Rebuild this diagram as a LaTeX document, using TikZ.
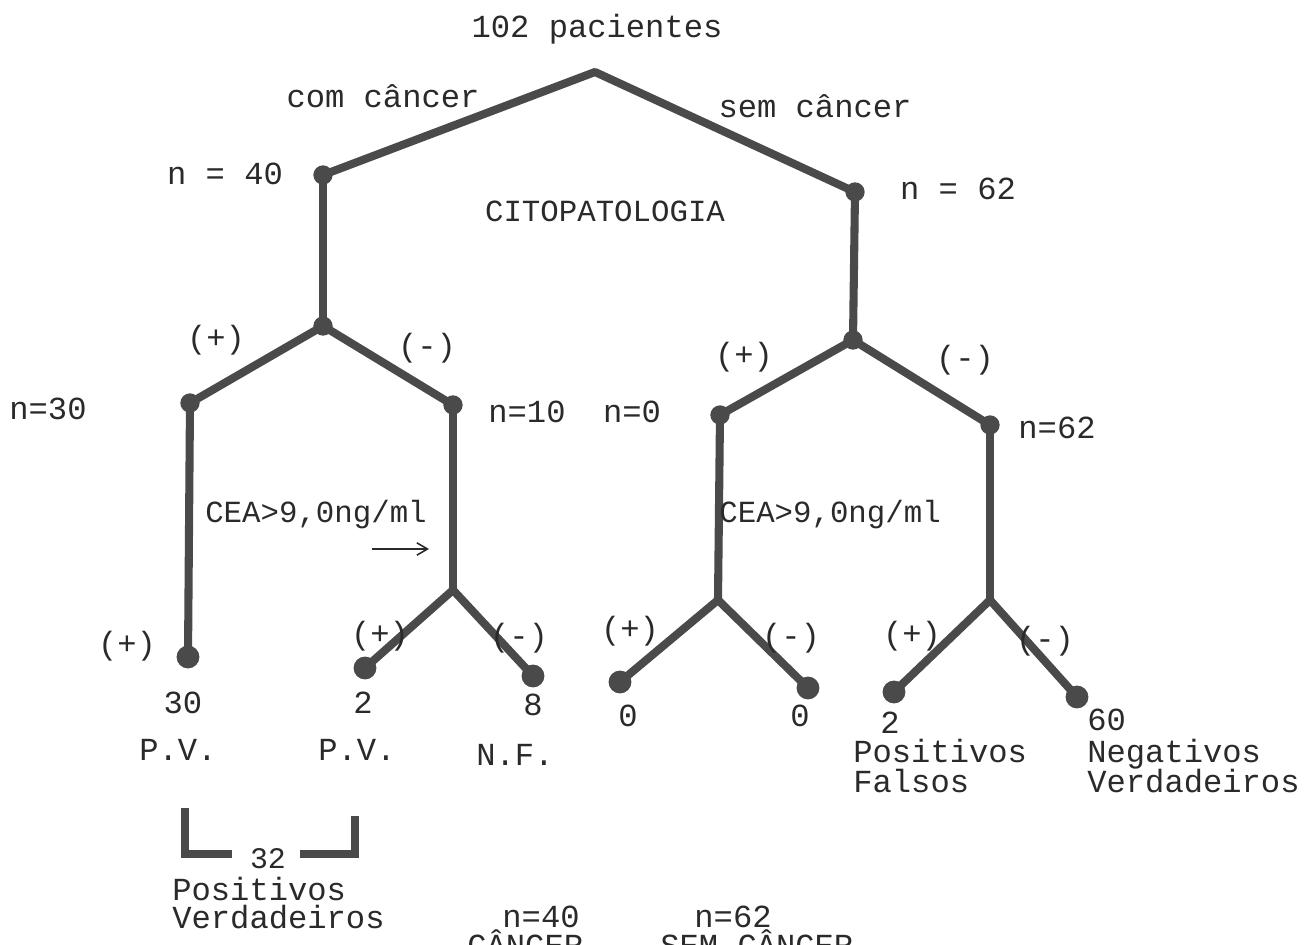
\documentclass[tikz,border=0pt]{standalone}
\usepackage{fontspec}
\setmainfont{Liberation Mono}
\usetikzlibrary{arrows.meta}
\definecolor{ink}{HTML}{4A4A4A}
\definecolor{txt}{HTML}{2A2A2A}
\tikzset{
  branch/.style={draw=ink, line width=4.6pt, line cap=round, line join=round},
  joint/.style={circle, fill=ink, inner sep=0pt, minimum size=11pt},
  leaf/.style={circle, fill=ink, inner sep=0pt, minimum size=13pt},
  lbl/.style={text=txt, font=\fontsize{18.3}{22}\selectfont, inner sep=0pt, anchor=base},
  lblw/.style={lbl, anchor=base west},
  slbl/.style={lbl, font=\fontsize{17.5}{21}\selectfont},
}
\begin{document}
\begin{tikzpicture}[x=0.02cm, y=-0.02cm]
\useasboundingbox (0,0) rectangle (1315,945);
\clip (0,0) rectangle (1315,945);
\fill[white] (0,0) rectangle (1315,945);

% tree points
\coordinate (root) at (595,72);
\node[joint] (c40) at (323,175) {};
\node[joint] (c62) at (855,192) {};
\node[joint] (fL) at (323,326) {};
\node[joint] (fR) at (853,340) {};
\node[joint] (p30) at (190,403) {};
\node[joint] (p10) at (453,405) {};
\node[joint] (p0) at (720,415) {};
\node[joint] (p62) at (990,425) {};
\coordinate (gA) at (453,590);
\coordinate (gB) at (718,600);
\coordinate (gC) at (990,600);
\node[leaf] (l30) at (188,657) {};
\node[leaf] (l2) at (365,668) {};
\node[leaf] (l8) at (533,676) {};
\node[leaf] (l0a) at (620,682) {};
\node[leaf] (l0b) at (808,688) {};
\node[leaf] (l2b) at (894,692) {};
\node[leaf] (l60) at (1077,697) {};

% branches
\draw[branch] (c40.center) -- (root) -- (c62.center);
\draw[branch] (c40.center) -- (fL.center);
\draw[branch] (c62.center) -- (fR.center);
\draw[branch] (p30.center) -- (fL.center) -- (p10.center);
\draw[branch] (p0.center) -- (fR.center) -- (p62.center);
\draw[branch] (p30.center) -- (l30.center);
\draw[branch] (p10.center) -- (gA);
\draw[branch] (l2.center) -- (gA) -- (l8.center);
\draw[branch] (p0.center) -- (gB);
\draw[branch] (l0a.center) -- (gB) -- (l0b.center);
\draw[branch] (p62.center) -- (gC);
\draw[branch] (l2b.center) -- (gC) -- (l60.center);

% labels on the upper levels
\node[lbl] (t102) at (597,38) {102 pacientes};
\node[lbl] (tcom) at (383,108) {com c\^ancer};
\node[lbl] (tsem) at (815,118) {sem c\^ancer};
\node[lbl] (n40) at (225,185) {n = 40};
\node[lbl] (n62) at (958,200) {n = 62};
\node[slbl] (cito) at (605,222) {CITOPATOLOGIA};
\node[lbl] (pL) at (216,349) {(+)};
\node[lbl] (mL) at (427,357) {(-)};
\node[lbl] (pR) at (744,366) {(+)};
\node[lbl] (mR) at (965,369) {(-)};
\node[lbl] (n30) at (48,420) {n=30};
\node[lbl] (n10) at (527,423) {n=10};
\node[lbl] (n0) at (632,423) {n=0};
\node[lbl] (n62b) at (1057,439) {n=62};

% CEA criterion
\node[slbl] (cea1) at (316,522) {CEA>9,0ng/ml};
\node[slbl, anchor=base west] (cea2) at (719,522) {CEA>9,0ng/ml};
\coordinate (ar1) at (372,549);
\coordinate (ar2) at (429,549);
\draw[txt, line width=0.9pt, -{Straight Barb[length=6pt,width=7pt]}] (ar1) -- (ar2);

% lower signs
\node[lbl] (s1) at (127,654) {(+)};
\node[lbl] (s2) at (380,644) {(+)};
\node[lbl] (s3) at (519,646) {(-)};
\node[lbl] (s4) at (630,639) {(+)};
\node[lbl] (s5) at (791,646) {(-)};
\node[lbl] (s6) at (912,644) {(+)};
\node[lbl] (s7) at (1045,649) {(-)};

% counts
\node[lbl] (v30) at (183,713) {30};
\node[lbl] (v2) at (363,713) {2};
\node[lbl] (v8) at (533,715) {8};
\node[lbl] (v0a) at (628,726) {0};
\node[lbl] (v0b) at (800,726) {0};
\node[lbl] (v2b) at (890,733) {2};
\node[lblw] (v60) at (1087,730) {60};

\node[lbl] (pv1) at (178,760) {P.V.};
\node[lbl] (pv2) at (357,760) {P.V.};
\node[lbl] (nf) at (515,765) {N.F.};
\node[lblw] (pf1) at (853,762) {Positivos};
\node[lblw] (pf2) at (853,792) {Falsos};
\node[lblw] (nv1) at (1087,762) {Negativos};
\node[lblw] (nv2) at (1087,792) {Verdadeiros};

% true positives bracket
\coordinate (b1) at (185,808);
\coordinate (b2) at (185,854);
\coordinate (b3) at (232,854);
\coordinate (b4) at (300,854);
\coordinate (b5) at (355,854);
\coordinate (b6) at (355,816);
\draw[branch, line cap=butt, line join=miter] (b1) -- (b2) -- (b3);
\draw[branch, line cap=butt, line join=miter] (b4) -- (b5) -- (b6);
\node[lbl, font=\fontsize{17}{20}\selectfont] (v32) at (268,868) {32};
\node[lblw] (pvt1) at (172,900) {Positivos};
\node[lblw] (pvt2) at (172,928) {Verdadeiros};

% totals at the foot
\node[lbl] (tc1) at (541,927) {n=40};
\node[lblw] (tc2) at (467,956) {C\^ANCER};
\node[lbl] (ts1) at (733,927) {n=62};
\node[lblw] (ts2) at (660,956) {SEM C\^ANCER};
\end{tikzpicture}
\end{document}
